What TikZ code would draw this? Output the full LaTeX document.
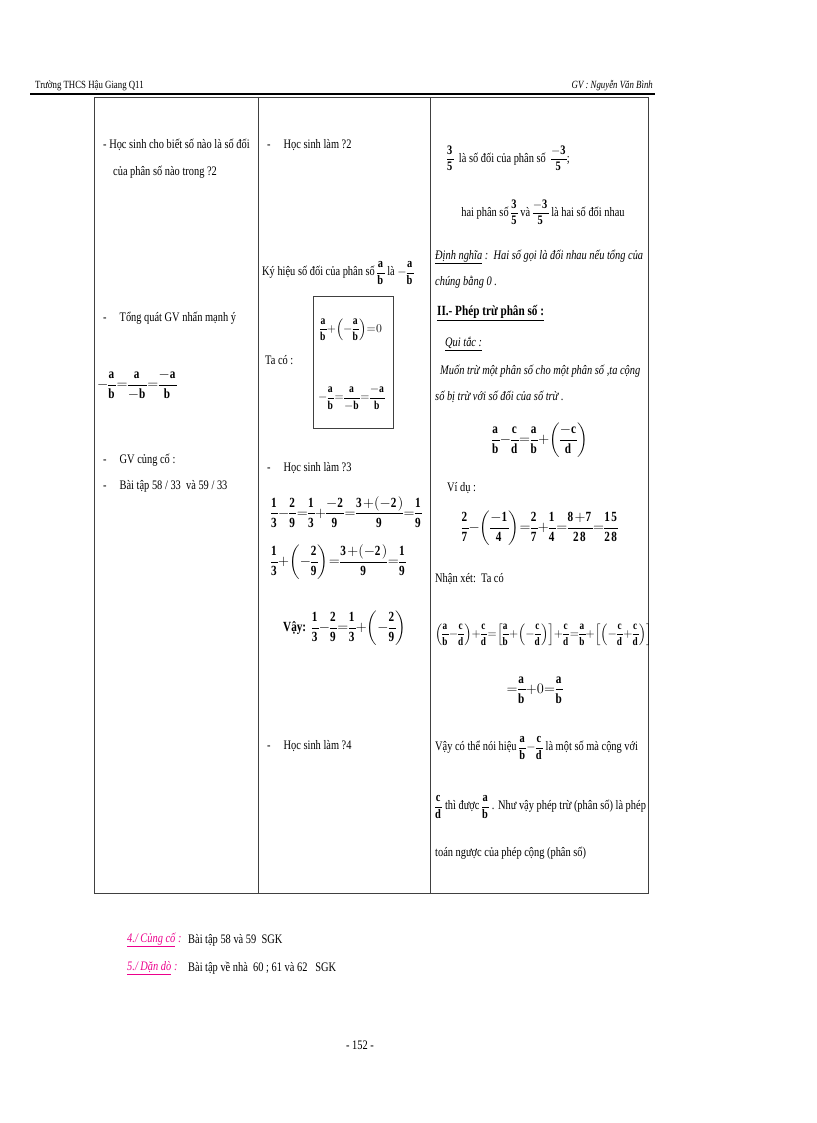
\documentclass[tikz,border=0pt]{standalone}
\usepackage{amsmath}
\usepackage{fontspec}
\setmainfont[FakeStretch=0.8]{Liberation Serif}
\begin{document}
\begin{tikzpicture}[x=1pt,y=-1pt,
 t/.style={anchor=west,inner sep=0pt,font=\fontsize{13}{15}\selectfont},
 m/.style={inner sep=0pt,font=\fontsize{14}{16}\selectfont},
 ms/.style={inner sep=0pt,font=\fontsize{12}{14}\selectfont},
 rule/.style={line width=0.8pt,draw=black!75}]
\newcommand{\fr}[2]{\dfrac{\mathbf{#1}}{\mathbf{#2}}}
\medmuskip=0mu \thickmuskip=0.5mu \nulldelimiterspace=0pt
\useasboundingbox (0,0) rectangle (816,1123);
% header
\node[t,font=\fontsize{11}{13}\selectfont] (hl) at (35,86) {Trường THCS Hậu Giang Q11};
\node[t,anchor=east,font=\fontsize{11}{13}\selectfont\itshape] (hr) at (653,86) {GV : Nguyễn Văn Bình};
\draw[line width=1.2pt] (30,94) -- (655,94);
% table
\draw[rule] (94,97) rectangle (648,893);
\draw[rule] (258,97) -- (258,893);
\draw[rule] (430,97) -- (430,893);
% col 1
\node[t] (a1) at (103,145) {-\ Học sinh cho biết số nào là số đối};
\node[t] (a2) at (113,172) {của phân số nào trong ?2};
\node[t] (a3) at (103,318) {-\quad Tổng quát GV nhấn mạnh ý};
\node[m] (a4) at (137,385) {$-\fr ab=\fr a{-b}=\fr{-a}b$};
\node[t] (a5) at (103,460) {-\quad GV củng cố :};
\node[t] (a6) at (103,486) {-\quad Bài tập 58 / 33\ \ và 59 / 33};
% col 2
\node[t] (b1) at (267,145) {-\quad Học sinh làm ?2};
\node[t] (b2) at (262,273) {Ký hiệu số đối của phân số $\fr ab$ là $-\fr ab$};
\draw[rule,line width=1pt] (313,296) rectangle (393,428);
\node[t] (b3) at (265,360) {Ta có :};
\node[ms,anchor=west] (b4) at (320,330) {$\fr ab+\left(-\fr ab\right)=0$};
\node[ms,anchor=west] (b5) at (318,398) {$-\fr ab=\fr a{-b}=\fr{-a}b$};
\node[t] (b6) at (267,468) {-\quad Học sinh làm ?3};
\node[m,anchor=west] (b7) at (271,512) {$\fr13-\fr29=\fr13+\fr{-2}9=\fr{3+(-2)}9=\fr19$};
\node[m,anchor=west] (b8) at (271,562) {$\fr13+\left(-\fr29\right)=\fr{3+(-2)}9=\fr19$};
\node[m,anchor=west] (b9) at (283,628) {\textbf{Vậy:}\ \ $\fr13-\fr29=\fr13+\left(-\fr29\right)$};
\node[t] (b10) at (267,746) {-\quad Học sinh làm ?4};
% col 3
\node[t] (c1) at (447,158) {$\fr35$\ \ là số đối của phân số\ \ $\fr{-3}5$;};
\node[t,anchor=center] (c2) at (543,212) {hai phân số $\fr35$ và $\fr{-3}5$ là hai số đối nhau};
\node[t,font=\fontsize{13}{15}\selectfont\itshape] (c3) at (435,257) {\underline{Định nghĩa} :\ \ Hai số gọi là đối nhau nếu tổng của};
\node[t,font=\fontsize{13}{15}\selectfont\itshape] (c4) at (435,282) {chúng bằng 0 .};
\node[t,font=\fontsize{14}{16}\selectfont\bfseries] (c5) at (437,313) {\underline{II.- Phép trừ phân số\ :}};
\node[t,font=\fontsize{13}{15}\selectfont\itshape] (c6) at (445,344) {\underline{Qui tắc :}};
\node[t,font=\fontsize{13}{15}\selectfont\itshape] (c7) at (440,371) {Muốn trừ một phân số cho một phân số ,ta cộng};
\node[t,font=\fontsize{13}{15}\selectfont\itshape] (c8) at (435,397) {số bị trừ với số đối của số trừ .};
\node[m] (c9) at (540,440) {$\fr ab-\fr cd=\fr ab+\left(\fr{-c}d\right)$};
\node[t] (c10) at (447,488) {Ví dụ :};
\node[m] (c11) at (540,528) {$\fr27-\left(\fr{-1}4\right)=\fr27+\fr14=\fr{8+7}{28}=\fr{15}{28}$};
\node[t] (c12) at (435,579) {Nhận xét:\ \ Ta có};
\node[ms,anchor=west,font=\fontsize{11.5}{14}\selectfont] (c13) at (435,635) {$\left(\fr ab-\fr cd\right)+\fr cd=\left[\fr ab+\left(-\fr cd\right)\right]+\fr cd=\fr ab+\left[\left(-\fr cd+\fr cd\right)\right]$};
\node[m] (c14) at (535,690) {$=\fr ab+0=\fr ab$};
\node[t] (c15) at (435,748) {Vậy có thể nói hiệu $\fr ab-\fr cd$ là một số mà cộng với};
\node[t] (c16) at (435,807) {$\fr cd$ thì được $\fr ab$ . Như vậy phép trừ (phân số) là phép};
\node[t] (c17) at (435,853) {toán ngược của phép cộng (phân số)};
% bottom
\node[t,text=magenta,font=\fontsize{13}{15}\selectfont\itshape] (d1) at (127,940) {\underline{4./ Củng cố} :};
\node[t] (d2) at (188,940) {Bài tập 58 và 59\ \ SGK};
\node[t,text=magenta,font=\fontsize{13}{15}\selectfont\itshape] (d3) at (127,968) {\underline{5./ Dặn dò} :};
\node[t] (d4) at (188,968) {Bài tập về nhà\ \ 60 ; 61 và 62\ \ \ SGK};
\node[t,anchor=center] (pg) at (360,1045) {- 152 -};
\end{tikzpicture}
\end{document}
